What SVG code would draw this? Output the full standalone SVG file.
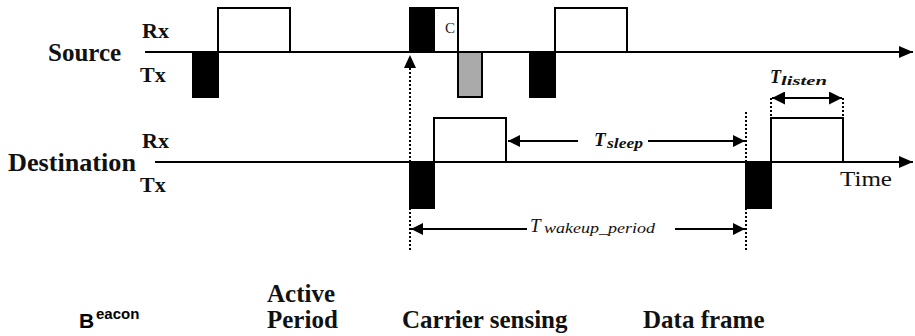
<svg xmlns="http://www.w3.org/2000/svg" width="915" height="336" viewBox="0 0 915 336">
<style>
.lbl{font-family:"Liberation Serif",serif;font-weight:bold;font-size:25px;fill:#111}
.rt{font-family:"Liberation Serif",serif;font-weight:bold;font-size:22px;fill:#111}
.tm{font-family:"Liberation Serif",serif;font-size:20px;fill:#111}
.T{font-family:"Liberation Serif",serif;font-weight:bold;font-style:italic;fill:#111}
.sub{font-family:"Liberation Serif",serif;font-style:italic;fill:#111}
.sans{font-family:"Liberation Sans",Arial,sans-serif;font-weight:bold;fill:#000}
.ax{stroke:#000;stroke-width:2.2;fill:none}
.box{stroke:#000;stroke-width:2;fill:#fff}
.blk{stroke:#000;stroke-width:2;fill:#000}
.gry{stroke:#000;stroke-width:2;fill:#aaa}
.dot{stroke:#000;stroke-width:2;stroke-dasharray:2 2;fill:none}
.dim{stroke:#000;stroke-width:2;fill:none}
</style>
<defs>
<marker id="axh" viewBox="0 0 14 12" refX="14" refY="6" markerWidth="14" markerHeight="12" orient="auto" markerUnits="userSpaceOnUse">
<path d="M0,0 L14,6 L0,12 z" fill="#000"/>
</marker>
<marker id="ah" viewBox="0 0 10 10" refX="10" refY="5" markerWidth="6" markerHeight="6" orient="auto" markerUnits="strokeWidth">
<path d="M0,0 L10,5 L0,10 z" fill="#000"/>
</marker>
<marker id="ahs" viewBox="0 0 10 10" refX="10" refY="5" markerWidth="6.5" markerHeight="6.5" orient="auto-start-reverse" markerUnits="strokeWidth">
<path d="M0,0 L10,5 L0,10 z" fill="#000"/>
</marker>
</defs>

<g id="source">
<text class="lbl" x="48" y="61">Source</text>
<text class="rt" x="142" y="38">Rx</text>
<text class="rt" x="140" y="82">Tx</text>
</g>
<g id="destination">
<text class="lbl" x="8" y="171" textLength="128" lengthAdjust="spacingAndGlyphs">Destination</text>
<text class="rt" x="142" y="148">Rx</text>
<text class="rt" x="140" y="192">Tx</text>
</g>

<g id="connectors">
<line class="ax" x1="145" y1="52" x2="913" y2="52" marker-end="url(#axh)"/>
<line class="ax" x1="155" y1="162" x2="913" y2="162" marker-end="url(#axh)"/>
<line class="dot" x1="410" y1="250" x2="410" y2="58"/>
<path d="M404,68 L410,55 L416,68 z" fill="#000"/>
<line class="dot" x1="746" y1="112" x2="746" y2="252"/>
<line class="dot" x1="771" y1="98" x2="771" y2="118"/>
<line class="dot" x1="843" y1="98" x2="843" y2="118"/>
<line class="dim" x1="578" y1="141" x2="508" y2="141" marker-end="url(#ah)"/>
<line class="dim" x1="648" y1="141" x2="745" y2="141" marker-end="url(#ah)"/>
<line class="dim" x1="527" y1="229" x2="411" y2="229" marker-end="url(#ah)"/>
<line class="dim" x1="675" y1="229" x2="745" y2="229" marker-end="url(#ah)"/>
<line class="dim" x1="772" y1="98" x2="842" y2="98" marker-start="url(#ahs)" marker-end="url(#ahs)"/>
</g>

<g id="source-signals">
<rect class="blk" x="193" y="52" width="25" height="45"/>
<rect class="box" x="218" y="8" width="72" height="44"/>
<rect class="blk" x="410" y="8" width="24" height="44"/>
<rect class="box" x="434" y="8" width="24" height="44"/>
<text x="445" y="33" font-family="Liberation Serif,serif" font-size="15" fill="#222">C</text>
<rect class="gry" x="458" y="52" width="24" height="45"/>
<rect class="blk" x="530" y="52" width="25" height="45"/>
<rect class="box" x="555" y="8" width="72" height="44"/>
</g>

<g id="destination-signals">
<rect class="blk" x="410" y="162" width="24" height="46"/>
<rect class="box" x="434" y="118" width="72" height="44"/>
<rect class="blk" x="746" y="162" width="25" height="46"/>
<rect class="box" x="771" y="118" width="72" height="44"/>
<text class="tm" x="840" y="186" textLength="52" lengthAdjust="spacingAndGlyphs">Time</text>
</g>

<g id="t-listen">
<text class="T" x="770" y="83" font-size="18">T</text>
<text class="T" x="781" y="85" font-size="12" textLength="46" lengthAdjust="spacingAndGlyphs">listen</text>
</g>
<g id="t-sleep">
<text class="T" x="594" y="146" font-size="19">T</text>
<text class="T" x="607" y="148" font-size="14" textLength="36" lengthAdjust="spacingAndGlyphs">sleep</text>
</g>
<g id="t-wakeup">
<text class="sub" x="530" y="232" font-size="19">T</text>
<text class="sub" x="544" y="233" font-size="14" textLength="111" lengthAdjust="spacingAndGlyphs">wakeup_period</text>
</g>

<g id="beacon">
<text class="sans" x="79" y="328" font-size="21">B</text>
<text class="sans" x="96" y="319" font-size="15">eacon</text>
</g>
<g id="active-period">
<text class="lbl" x="267" y="302">Active</text>
<text class="lbl" x="267" y="328">Period</text>
</g>
<g id="carrier-sensing">
<text class="lbl" x="402" y="328">Carrier sensing</text>
</g>
<g id="data-frame">
<text class="lbl" x="643" y="328">Data frame</text>
</g>
</svg>
